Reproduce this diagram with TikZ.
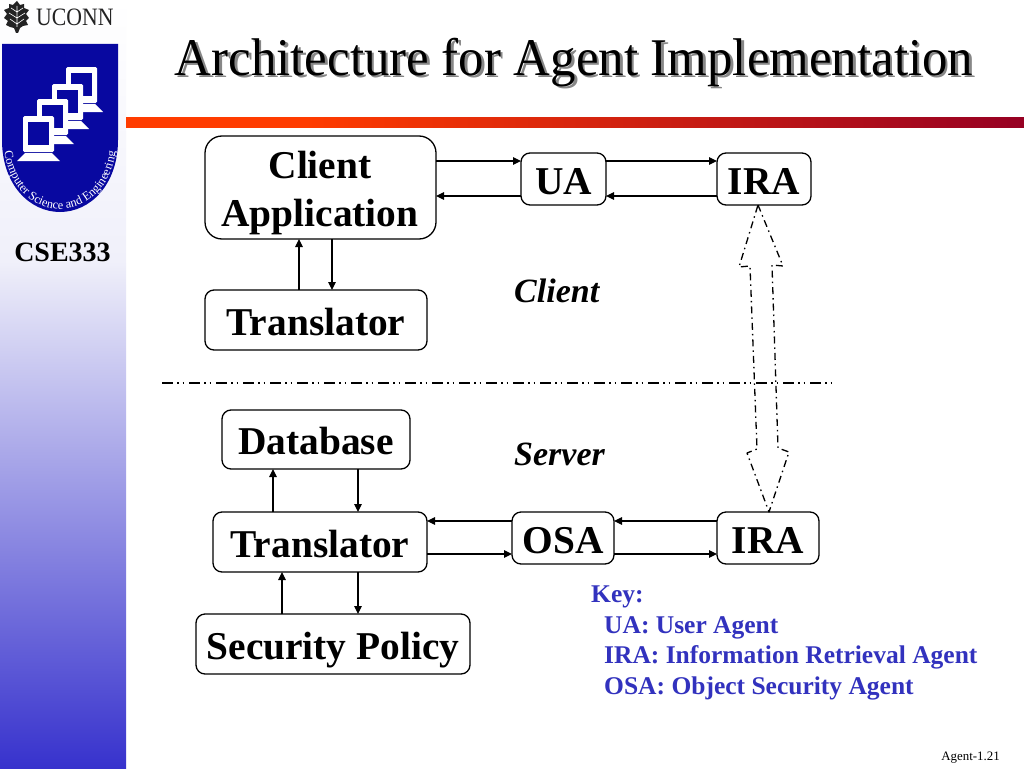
\documentclass[tikz,border=0pt]{standalone}
\usepackage{fontspec}
\setmainfont{Liberation Serif}
\usetikzlibrary{arrows.meta,calc,decorations.text}
\definecolor{sidemid}{RGB}{240,240,250}
\definecolor{sideblue}{RGB}{55,50,205}
\definecolor{shieldblue}{RGB}{8,8,160}
\definecolor{barred}{RGB}{255,60,0}
\definecolor{bardark}{RGB}{150,0,35}
\definecolor{keyblue}{RGB}{50,50,190}
\definecolor{shadowgray}{RGB}{135,135,135}
\definecolor{leafgray}{RGB}{35,35,35}
\pgfdeclareverticalshading{sidefade}{100bp}{color(0bp)=(sideblue); color(25bp)=(sideblue); color(58bp)=(sidemid); color(75bp)=(white); color(100bp)=(white)}
\pgfdeclarehorizontalshading{barfade}{100bp}{color(0bp)=(barred); color(35bp)=(barred); color(75bp)=(bardark); color(100bp)=(bardark)}
\newcommand{\fs}[1]{\fontsize{#1}{#1}\selectfont}
\tikzset{
  x=1pt,y=-1pt,
  boxnode/.style={draw=black,fill=white,line width=1.3pt,rounded corners=9pt,inner sep=0pt,outer sep=0pt,font=\fs{39.4}\bfseries,align=center,text height=30pt,text depth=0pt},
  arr/.style={line width=1.2pt,draw=black,-{Triangle[length=8pt,width=7.5pt]}},
  keytext/.style={anchor=base west,inner sep=0pt,text=keyblue,font=\fs{25.5}\bfseries},
  zonetext/.style={anchor=base west,inner sep=0pt,font=\fs{34}\bfseries\itshape},
  blockarrow/.style={line width=1.3pt,draw=black,dash pattern=on 7pt off 4pt on 1.5pt off 4pt,line join=round},
}
\newcommand{\monitor}[2]{%
  \fill[white] (#1-6,#2+45) -- (#1+37,#2+45) -- (#1+29,#2+37) -- (#1+2,#2+37) -- cycle;
  \fill[white,rounded corners=1.5pt] (#1,#2) rectangle (#1+31,#2+36);
  \fill[shieldblue] (#1+5,#2+6) rectangle (#1+26,#2+29);
}
\begin{document}
\begin{tikzpicture}
\useasboundingbox (0,0) rectangle (1024,768);
\fill[white] (0,0) rectangle (1024,768);
% sidebar
\shade[shading=sidefade] (0,0) rectangle (126,768);
% title bar
\shade[shading=barfade] (126,117) rectangle (1024,127);
% title
\node[anchor=base,inner sep=0pt,text=shadowgray,font=\fs{53}] at (576.5,77.5) {\addfontfeature{FakeStretch=0.96}Architecture for Agent Implementation};
\node[anchor=base,inner sep=0pt,font=\fs{53}] (title) at (574,75) {\addfontfeature{FakeStretch=0.96}Architecture for Agent Implementation};
% logo
\fill[leafgray] (17,1) -- (20,5) -- (24,4) -- (24,8) -- (29,10) -- (26,14) -- (29,18) -- (26,21) -- (28,25) -- (23,26) -- (20,28) -- (18,33) -- (16,33) -- (14,28) -- (10,27) -- (6,25) -- (8,21) -- (4,18) -- (7,14) -- (4,10) -- (9,8) -- (9,4) -- (13,5) -- cycle;
\draw[white,line width=0.6pt] (17,6) -- (17,27) (17,12) -- (11,8) (17,12) -- (23,8) (17,18) -- (9,13) (17,18) -- (25,13) (17,24) -- (10,19) (17,24) -- (24,19);
\node[anchor=base west,inner sep=0pt,text=leafgray,font=\fs{25}] (uconn) at (36,26) {\addfontfeature{FakeStretch=0.87}UCONN};
% shield
\fill[shieldblue] (2,44) -- (118,44) -- (118,140) .. controls (118,185) and (90,212) .. (60,212) .. controls (30,212) and (2,185) .. (2,140) -- cycle;
\monitor{66}{67}
\monitor{52}{84}
\monitor{37}{99}
\monitor{23}{116}
\path[postaction={decorate,decoration={text along path,text align=center,text={|\fs{12.3}\color{white}|Computer Science and Engineering}}}] (4,148) .. controls (7,185) and (32,209) .. (60,209) .. controls (88,209) and (113,185) .. (116,148);
\node[inner sep=0pt,font=\fs{28}\bfseries] (course) at (62.5,252) {CSE333};
\node[anchor=base east,inner sep=0pt,font=\fs{12.9}] (page) at (1000,760) {Agent-1.21};
% boxes
\node[boxnode,rounded corners=17pt,minimum width=231pt,minimum height=103pt] (client) at (320.5,187.5) {};
\node[inner sep=0pt,anchor=base,font=\fs{39.4}\bfseries] (clientA) at (320,178) {Client};
\node[inner sep=0pt,anchor=base,font=\fs{39.4}\bfseries] (clientB) at (320,226) {Application};
\node[boxnode,minimum width=222pt,minimum height=60pt] (trans1) at (316,320) {Translator};
\node[boxnode,minimum width=85pt,minimum height=52pt] (ua) at (563.5,179) {UA};
\node[boxnode,minimum width=94pt,minimum height=52pt] (ira1) at (764,179) {IRA};
\node[boxnode,minimum width=188pt,minimum height=59pt] (db) at (316,439.5) {Database};
\node[boxnode,minimum width=214pt,minimum height=60pt] (trans2) at (320,542) {Translator};
\node[boxnode,minimum width=102pt,minimum height=52pt] (osa) at (563,538) {OSA};
\node[boxnode,minimum width=102pt,minimum height=52pt] (ira2) at (768,538) {IRA};
\node[boxnode,minimum width=274pt,minimum height=60pt] (sec) at (333,644) {Security Policy};
% connectors
\draw[arr] (client.east |- 0,161) -- (ua.west |- 0,161);
\draw[arr] (ua.west |- 0,196) -- (client.east |- 0,196);
\draw[arr] (ua.east |- 0,161) -- (ira1.west |- 0,161);
\draw[arr] (ira1.west |- 0,196) -- (ua.east |- 0,196);
\draw[arr] (trans1.north -| 299,0) -- (client.south -| 299,0);
\draw[arr] (client.south -| 332,0) -- (trans1.north -| 332,0);
\draw[arr] (trans2.north -| 273,0) -- (db.south -| 273,0);
\draw[arr] (db.south -| 358,0) -- (trans2.north -| 358,0);
\draw[arr] (sec.north -| 282,0) -- (trans2.south -| 282,0);
\draw[arr] (trans2.south -| 358,0) -- (sec.north -| 358,0);
\draw[arr] (osa.west |- 0,521) -- (trans2.east |- 0,521);
\draw[arr] (trans2.east |- 0,554) -- (osa.west |- 0,554);
\draw[arr] (ira2.west |- 0,521) -- (osa.east |- 0,521);
\draw[arr] (osa.east |- 0,554) -- (ira2.west |- 0,554);
% separator
\draw[line width=1.3pt,dash pattern=on 11pt off 4pt on 1.5pt off 4pt on 1.5pt off 5pt] (162,383) -- (833,383);
% block arrow
\draw[blockarrow] (758,205) -- (783,266) -- (772,265) -- (778,448) -- (789,452) -- (769,512) -- (747,453) -- (757,449) -- (750,266) -- (739,267) -- cycle;
% labels
\node[zonetext] (zclient) at (514,302) {Client};
\node[zonetext] (zserver) at (514,465) {Server};
\node[keytext] (k0) at (591,602) {Key:};
\node[keytext] (k1) at (604,633) {UA: User Agent};
\node[keytext] (k2) at (604,663) {IRA: Information Retrieval Agent};
\node[keytext] (k3) at (604,694) {OSA: Object Security Agent};
\end{tikzpicture}
\end{document}
